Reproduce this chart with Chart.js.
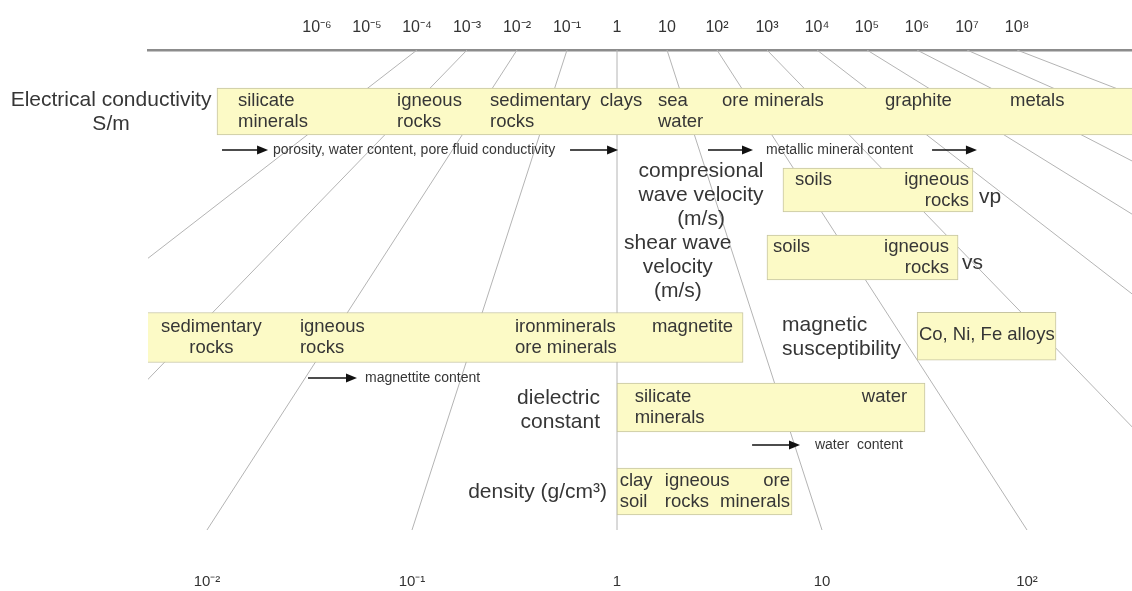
<!DOCTYPE html>
<html>
<head>
<meta charset="utf-8">
<title>Geophysical properties of rocks and minerals</title>
<script src="https://cdn.jsdelivr.net/npm/chart.js@4.4.1/dist/chart.umd.min.js"></script>
<style>
  html, body { margin: 0; padding: 0; background: #fff; }
  #chart { display: block; }
</style>
</head>
<body>
<canvas id="chart" width="1132" height="591"></canvas>
<script>
// top scale: electrical conductivity in S/m
const conductivityTicks = [1e-6, 1e-5, 1e-4, 1e-3, 1e-2, 1e-1, 1, 10, 1e2, 1e3, 1e4, 1e5, 1e6, 1e7, 1e8];
const conductivityTickLabels = ['10⁻⁶', '10⁻⁵', '10⁻⁴', '10⁻³', '10⁻²', '10⁻¹', '1', '10', '10²', '10³', '10⁴', '10⁵', '10⁶', '10⁷', '10⁸'];

// bottom scale: all the other properties
const relativeTicks = [1e-2, 1e-1, 1, 10, 1e2];
const relativeTickLabels = ['10⁻²', '10⁻¹', '1', '10', '10²'];

// thin guide lines joining the same value on both scales
const fanDecades = [1e-4, 1e-3, 1e-2, 1e-1, 1, 10, 1e2, 1e3, 1e4, 1e5, 1e6, 1e7, 1e8];

// the yellow boxes (ranges) and the row they sit on
const boxNames = ['electrical conductivity', 'vp', 'vs', 'magnetic susceptibility', 'Co, Ni, Fe alloys', 'dielectric constant', 'density'];
const boxAxes = ['x1', 'x2', 'x2', 'x2', 'x2', 'x2', 'x2'];
const boxRanges = [[1e-8, 1e11], [6.45, 54.5], [5.39, 46.1], [5e-3, 4.12], [29.1, 138.5], [1, 31.8], [1, 7.14]];
const boxRows = [2.46, 5.6, 8.3, 11.5, 11.45, 14.3, 17.66];

// text written inside the boxes
const boxLabels = [
    { axis: 'x1', at: 2.63e-8, row: 2.46, align: 'left', lines: ['silicate', 'minerals'] },
    { axis: 'x1', at: 4e-5, row: 2.46, align: 'left', lines: ['igneous', 'rocks'] },
    { axis: 'x1', at: 2.88e-3, row: 2.46, align: 'left', lines: ['sedimentary', 'rocks'] },
    { axis: 'x1', at: 0.457, row: 2.46, align: 'left', lines: ['clays', ''] },
    { axis: 'x1', at: 6.6, row: 2.46, align: 'left', lines: ['sea', 'water'] },
    { axis: 'x1', at: 126, row: 2.46, align: 'left', lines: ['ore minerals', ''] },
    { axis: 'x1', at: 2.29e5, row: 2.46, align: 'left', lines: ['graphite', ''] },
    { axis: 'x1', at: 7.24e7, row: 2.46, align: 'left', lines: ['metals', ''] },
    { axis: 'x2', at: 7.38, row: 5.6, align: 'left', lines: ['soils', ''] },
    { axis: 'x2', at: 52.1, row: 5.6, align: 'right', lines: ['igneous', 'rocks'] },
    { axis: 'x2', at: 5.77, row: 8.3, align: 'left', lines: ['soils', ''] },
    { axis: 'x2', at: 41.6, row: 8.3, align: 'right', lines: ['igneous', 'rocks'] },
    { axis: 'x2', at: 0.0105, row: 11.5, align: 'center', lines: ['sedimentary', 'rocks'] },
    { axis: 'x2', at: 0.0284, row: 11.5, align: 'left', lines: ['igneous', 'rocks'] },
    { axis: 'x2', at: 0.318, row: 11.5, align: 'left', lines: ['ironminerals', 'ore minerals'] },
    { axis: 'x2', at: 1.48, row: 11.5, align: 'left', lines: ['magnetite', ''] },
    { axis: 'x2', at: 29.7, row: 11.4, align: 'left', lines: ['Co, Ni, Fe alloys'] },
    { axis: 'x2', at: 1.22, row: 14.3, align: 'left', lines: ['silicate', 'minerals'] },
    { axis: 'x2', at: 26.0, row: 14.3, align: 'right', lines: ['water', ''] },
    { axis: 'x2', at: 1.03, row: 17.66, align: 'left', lines: ['clay', 'soil'] },
    { axis: 'x2', at: 1.71, row: 17.66, align: 'left', lines: ['igneous', 'rocks'] },
    { axis: 'x2', at: 6.98, row: 17.66, align: 'right', lines: ['ore', 'minerals'] }
];

// property names next to the boxes
const propertyLabels = [
    { axis: 'x1', at: 7.6e-11, row: 2.5, align: 'center', lines: ['Electrical conductivity', 'S/m'] },
    { axis: 'x2', at: 2.57, row: 5.8, align: 'center', lines: ['compresional', 'wave velocity', '(m/s)'] },
    { axis: 'x2', at: 58.3, row: 5.88, align: 'left', lines: ['vp'] },
    { axis: 'x2', at: 1.98, row: 8.7, align: 'center', lines: ['shear wave', 'velocity', '(m/s)'] },
    { axis: 'x2', at: 48.2, row: 8.52, align: 'left', lines: ['vs'] },
    { axis: 'x2', at: 6.38, row: 11.48, align: 'left', lines: ['magnetic', 'susceptibility'] },
    { axis: 'x2', at: 0.826, row: 14.4, align: 'right', lines: ['dielectric', 'constant'] },
    { axis: 'x2', at: 0.894, row: 17.68, align: 'right', lines: ['density (g/cm³)'] }
];

// trend arrows and their notes
const trendArrows = [
    { axis: 'x1', from: 1.26e-8, to: 1.05e-7, row: 4.0 },
    { axis: 'x1', from: 0.115, to: 1.05, row: 4.0 },
    { axis: 'x1', from: 66, to: 525, row: 4.0 },
    { axis: 'x1', from: 2.0e6, to: 1.58e7, row: 4.0 },
    { axis: 'x2', from: 0.0311, to: 0.0539, row: 13.12 },
    { axis: 'x2', from: 4.56, to: 7.81, row: 15.8 }
];
const trendNotes = [
    { axis: 'x1', at: 1.32e-7, row: 4.0, align: 'left', lines: ['porosity, water content, pore fluid conductivity'] },
    { axis: 'x1', at: 955, row: 4.0, align: 'left', lines: ['metallic mineral content'] },
    { axis: 'x2', at: 0.059, row: 13.12, align: 'left', lines: ['magnettite content'] },
    { axis: 'x2', at: 9.24, row: 15.8, align: 'left', lines: ['water  content'] }
];

const boxHeights = [47, 44, 45, 50, 48, 49, 47];
const FONT = '"Liberation Sans", Arial, sans-serif';
const TEXT = '#363636';

const drawText = (ctx, lines, x, y, align, size, gap) => {
    ctx.font = `${size}px ${FONT}`;
    ctx.textAlign = align;
    ctx.textBaseline = 'middle';
    const y0 = y - (lines.length - 1) * gap / 2;
    lines.forEach((t, i) => ctx.fillText(t, x, y0 + i * gap));
};

const drawArrow = (ctx, x0, x1, y) => {
    ctx.beginPath();
    ctx.moveTo(x0, y);
    ctx.lineTo(x1 - 8, y);
    ctx.stroke();
    ctx.beginPath();
    ctx.moveTo(x1, y);
    ctx.lineTo(x1 - 11, y - 4.5);
    ctx.lineTo(x1 - 11, y + 4.5);
    ctx.closePath();
    ctx.fill();
};

const diagramPlugin = {
    id: 'diagram',
    beforeDatasetsDraw(chart) {
        const { ctx, chartArea: a, scales } = chart;
        ctx.save();
        ctx.beginPath();
        ctx.rect(a.left, a.top, a.right - a.left, a.bottom - a.top);
        ctx.clip();
        ctx.strokeStyle = '#b4b4b4';
        ctx.lineWidth = 1;
        fanDecades.forEach(v => {
            ctx.beginPath();
            ctx.moveTo(scales.x1.getPixelForValue(v), a.top);
            ctx.lineTo(scales.x2.getPixelForValue(v), a.bottom);
            ctx.stroke();
        });
        ctx.restore();
    },
    afterDatasetsDraw(chart) {
        const { ctx, scales } = chart;
        const y = scales.y;
        ctx.save();
        ctx.fillStyle = TEXT;
        boxLabels.forEach(l => drawText(ctx, l.lines, scales[l.axis].getPixelForValue(l.at), y.getPixelForValue(l.row), l.align, 18.5, 21));
        propertyLabels.forEach(l => drawText(ctx, l.lines, scales[l.axis].getPixelForValue(l.at), y.getPixelForValue(l.row), l.align, 21, 24));
        trendNotes.forEach(l => drawText(ctx, l.lines, scales[l.axis].getPixelForValue(l.at), y.getPixelForValue(l.row), l.align, 14, 16));
        ctx.fillStyle = '#111';
        ctx.strokeStyle = '#111';
        ctx.lineWidth = 1.5;
        trendArrows.forEach(r => drawArrow(ctx, scales[r.axis].getPixelForValue(r.from), scales[r.axis].getPixelForValue(r.to), y.getPixelForValue(r.row)));
        ctx.restore();
    }
};

const datasets = boxRanges.map((r, i) => ({
    label: boxNames[i],
    data: [{ x: r, y: boxRows[i] }],
    xAxisID: boxAxes[i],
    stack: 'boxes',
    barThickness: boxHeights[i],
    backgroundColor: '#fcfac6',
    borderColor: '#c6c4a2',
    borderWidth: 1,
    borderSkipped: false
}));

const ctx = document.getElementById('chart').getContext('2d');
const chart = new Chart(ctx, {
    type: 'bar',
    data: { datasets },
    plugins: [diagramPlugin],
    options: {
        indexAxis: 'y',
        responsive: false,
        animation: false,
        devicePixelRatio: 1,
        layout: { padding: { left: 148, right: 0, top: 0, bottom: 0 } },
        plugins: { legend: { display: false }, tooltip: { enabled: false } },
        scales: {
            x1: {
                axis: 'x',
                type: 'logarithmic',
                position: 'top',
                min: 4.169e-10,
                max: 1.995e10,
                bounds: 'data',
                stacked: false,
                grid: { display: false, drawTicks: false },
                border: { display: true, color: '#8c8c8c', width: 2.5 },
                afterFit: s => { s.height = 50; },
                afterBuildTicks: s => { s.ticks = conductivityTicks.map(v => ({ value: v })); },
                ticks: {
                    autoSkip: false,
                    maxRotation: 0,
                    padding: 13,
                    color: '#333',
                    font: { family: FONT, size: 16 },
                    callback: (v, i) => conductivityTickLabels[i]
                }
            },
            x2: {
                axis: 'x',
                type: 'logarithmic',
                position: 'bottom',
                min: 5.155e-3,
                max: 325.2,
                bounds: 'data',
                stacked: false,
                grid: { display: false, drawTicks: false },
                border: { display: false },
                afterFit: s => { s.height = 61; },
                afterBuildTicks: s => { s.ticks = relativeTicks.map(v => ({ value: v })); },
                ticks: {
                    autoSkip: false,
                    maxRotation: 0,
                    padding: 43,
                    color: '#333',
                    font: { family: FONT, size: 15 },
                    callback: (v, i) => relativeTickLabels[i]
                }
            },
            y: {
                type: 'linear',
                reverse: true,
                min: 0,
                max: 19.2,
                bounds: 'data',
                offset: false,
                display: false
            }
        }
    }
});
</script>
</body>
</html>
